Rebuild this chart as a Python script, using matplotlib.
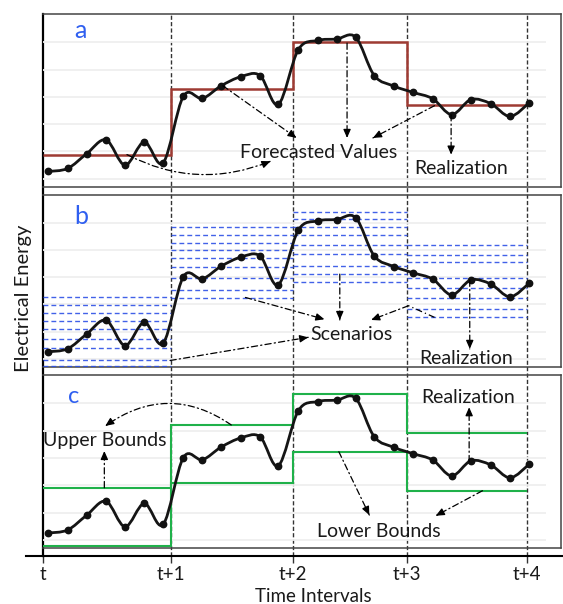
import numpy as np
import matplotlib
matplotlib.use("Agg")
import matplotlib.pyplot as plt
from matplotlib.path import Path
from matplotlib.patches import PathPatch

plt.rcParams['font.family'] = ['Lato', 'DejaVu Sans']

# ---------------- data ----------------
interval_edges = [0.0, 1.065, 2.07, 3.01, 4.0]
tick_labels = ['t', 't+1', 't+2', 't+3', 't+4']

sample_times = [0.048, 0.208, 0.365, 0.525, 0.682, 0.841, 0.998,
                1.164, 1.321, 1.475, 1.640, 1.798, 1.949,
                2.114, 2.274, 2.431, 2.588, 2.742, 2.907,
                3.064, 3.225, 3.382, 3.541, 3.704, 3.864, 4.023]
realization = [1.26, 1.37, 1.91, 2.42, 1.49, 2.34, 1.58,
               4.02, 3.94, 4.40, 4.74, 4.78, 3.72,
               5.73, 6.07, 6.12, 6.19, 4.78, 4.39, 4.16,
               3.93, 3.35, 3.90, 3.75, 3.28, 3.78]

forecast = [1.88, 4.29, 6.01, 3.70]

scenarios_t0 = [3.26, 2.98, 2.69, 2.39, 2.10, 1.73, 1.38, 0.96, 0.72]
scenarios_t1 = [5.85, 5.55, 5.27, 4.99, 4.70, 4.37, 3.97, 3.53, 3.24]
scenarios_t2 = [6.41, 6.14, 5.85, 5.55, 5.20, 4.85, 4.41, 4.11, 3.83]
scenarios_t3 = [5.19, 4.83, 4.55, 3.97, 3.60, 3.25, 2.82, 2.53]

upper_bounds = [2.92, 5.21, 6.35, 4.93]
lower_bounds = [0.79, 3.10, 4.23, 2.81]

grid_levels = [1, 2, 3, 4, 5, 6]

# ---------------- layout ----------------
W, H = 563, 604
fig = plt.figure(figsize=(W / 100, H / 100), dpi=100)


def rect(x0, y0, x1, y1):
    return [x0 / W, 1 - y1 / H, (x1 - x0) / W, (y1 - y0) / H]


X0PX, XUNIT = 42.5, 121.0


def px2x(px):
    return (px - X0PX) / XUNIT


YLIM = (0.7, 7.04)
XMAX = px2x(560.8)
GRID_RIGHT = px2x(545.7)

TXT = '#1a1a1a'
BLUE_LETTER = '#2f5ff0'
BROWN = '#9e3b33'
GREEN = '#1fb14a'
SCEN_BLUE = '#2d50e6'
DASHDOT = (0, (5, 2.5, 1, 2.5))
FS = 14

# background frame axes (axis lines, ticks, vertical interval lines)
bg = fig.add_axes(rect(26, 14, 562, 556))
bg.set_xlim(px2x(26), px2x(562))
bg.set_ylim(0, 1)
bg.spines['top'].set_visible(False)
bg.spines['right'].set_visible(False)
bg.spines['left'].set_position(('data', 0))
bg.spines['left'].set_linewidth(1.6)
bg.spines['bottom'].set_linewidth(1.5)
bg.set_yticks([])
bg.set_xticks(interval_edges)
bg.set_xticklabels(tick_labels, fontsize=13.5, color=TXT)
bg.tick_params(axis='x', length=5, width=1, pad=2, color='#333')
bg.vlines(interval_edges[1:], 0, 1, colors='#333', linestyles=(0, (3, 1.6)), lw=1.0)

fig.text(24 / W, 1 - 298 / H, 'Electrical Energy', rotation=90, ha='center',
         va='center', fontsize=14.5, color=TXT)
fig.text(313 / W, 1 - 601.7 / H, 'Time Intervals', ha='center', va='baseline',
         fontsize=13.5, color=TXT)

panels = [fig.add_axes(rect(X0PX, 14, 560.8, 186.7)),
          fig.add_axes(rect(X0PX, 194.5, 560.8, 367)),
          fig.add_axes(rect(X0PX, 375, 560.8, 548.3))]


def smooth_path(xs, ys):
    pts = np.column_stack([xs, ys])
    n = len(pts)
    verts = [pts[0]]
    codes = [Path.MOVETO]
    for i in range(n - 1):
        p0 = pts[i - 1] if i > 0 else pts[i]
        p1 = pts[i]
        p2 = pts[i + 1]
        p3 = pts[i + 2] if i + 2 < n else pts[i + 1]
        c1 = p1 + (p2 - p0) / 6.0
        c2 = p2 - (p3 - p1) / 6.0
        verts += [c1, c2, p2]
        codes += [Path.CURVE4] * 3
    return Path(verts, codes)


for ax in panels:
    ax.set_facecolor('none')
    ax.set_xlim(0, XMAX)
    ax.set_ylim(*YLIM)
    ax.set_xticks([])
    ax.set_yticks([])
    for s in ['top', 'right', 'bottom']:
        ax.spines[s].set_color('#444')
        ax.spines[s].set_linewidth(1.1)
    ax.spines['left'].set_visible(False)
    ax.hlines(grid_levels, 0, GRID_RIGHT, colors='#efefef', lw=1.3, zorder=0)
    ax.add_patch(PathPatch(smooth_path(sample_times, realization), facecolor='none',
                           edgecolor='#151515', lw=2.0, zorder=5))
    ax.plot(sample_times, realization, 'o', ms=4.6, color='#111', zorder=6)


def arrow(ax, start, end, rad=0.0):
    cs = f'arc3,rad={rad}'
    ax.annotate('', xy=end, xytext=start,
                arrowprops=dict(arrowstyle='-', color='k', lw=0.9, linestyle=DASHDOT,
                                shrinkA=0, shrinkB=0, connectionstyle=cs), zorder=7)
    p0 = ax.transData.transform(start)
    p1 = ax.transData.transform(end)
    d = np.hypot(*(p1 - p0)) * 72 / fig.dpi
    ax.annotate('', xy=end, xytext=start,
                arrowprops=dict(arrowstyle='-|>,head_length=0.5,head_width=0.22',
                                color='k', lw=0.9, shrinkA=max(d - 4, 0), shrinkB=0,
                                connectionstyle=cs, mutation_scale=10), zorder=7)


def seg(ax, start, end):
    ax.plot([start[0], end[0]], [start[1], end[1]], color='k', lw=0.9,
            linestyle=DASHDOT, zorder=7)


# ---------------- panel a ----------------
pa = panels[0]
pa.stairs(forecast, interval_edges, baseline=None, color=BROWN, lw=1.8, zorder=4)
pa.text(0.316, 6.154, 'a', color=BLUE_LETTER, fontsize=18, ha='center', va='baseline')
pa.text(2.281, 1.758, 'Forecasted Values', color=TXT, fontsize=FS, ha='center',
        va='baseline', zorder=8)
pa.text(3.463, 1.183, 'Realization', color=TXT, fontsize=FS, ha='center',
        va='baseline', zorder=8)
arrow(pa, (1.490, 4.407), (2.099, 2.491))
arrow(pa, (2.517, 5.971), (2.517, 2.491))
arrow(pa, (3.240, 3.674), (2.731, 2.491))
arrow(pa, (0.698, 1.879), (1.884, 1.634), rad=0.23)
arrow(pa, (3.377, 3.344), (3.377, 1.879))

# ---------------- panel b ----------------
pb = panels[1]
for k, levels in enumerate([scenarios_t0, scenarios_t1, scenarios_t2, scenarios_t3]):
    pb.hlines(levels, interval_edges[k], interval_edges[k + 1], colors=SCEN_BLUE,
              linestyles=(0, (3.5, 2.2)), lw=1.0, alpha=0.9, zorder=3)
pb.text(0.324, 5.945, 'b', color=BLUE_LETTER, fontsize=18, ha='center', va='baseline')
pb.text(2.554, 1.696, 'Scenarios', color=TXT, fontsize=FS, ha='center',
        va='baseline', zorder=8)
pb.text(3.497, 0.817, 'Realization', color=TXT, fontsize=FS, ha='center',
        va='baseline', zorder=8)
arrow(pb, (1.677, 3.256), (2.330, 2.454))
arrow(pb, (2.457, 4.114), (2.457, 2.429))
seg(pb, (3.240, 2.524), (3.025, 2.952))
arrow(pb, (3.025, 2.952), (2.716, 2.429))
arrow(pb, (1.054, 0.938), (2.196, 1.791))
arrow(pb, (3.531, 3.894), (3.531, 1.366))

# ---------------- panel c ----------------
pc = panels[2]
pc.stairs(upper_bounds, interval_edges, baseline=None, color=GREEN, lw=1.5, zorder=4)
pc.stairs(lower_bounds, interval_edges, baseline=None, color=GREEN, lw=1.5, zorder=4)
pc.text(0.257, 6.007, 'c', color=BLUE_LETTER, fontsize=17, ha='center', va='baseline')
pc.text(0.512, 4.443, 'Upper Bounds', color=TXT, fontsize=FS, ha='center',
        va='baseline', zorder=8)
pc.text(2.783, 1.121, 'Lower Bounds', color=TXT, fontsize=FS, ha='center',
        va='baseline', zorder=8)
pc.text(3.517, 6.029, 'Realization', color=TXT, fontsize=FS, ha='center',
        va='baseline', zorder=8)
arrow(pc, (0.511, 2.916), (0.511, 4.260))
arrow(pc, (1.560, 5.212), (0.519, 5.176), rad=0.35)
arrow(pc, (2.449, 4.234), (2.701, 1.916))
arrow(pc, (3.636, 2.806), (3.250, 1.890))
arrow(pc, (3.526, 3.868), (3.526, 5.861))

fig.savefig('out.png', dpi=100)
